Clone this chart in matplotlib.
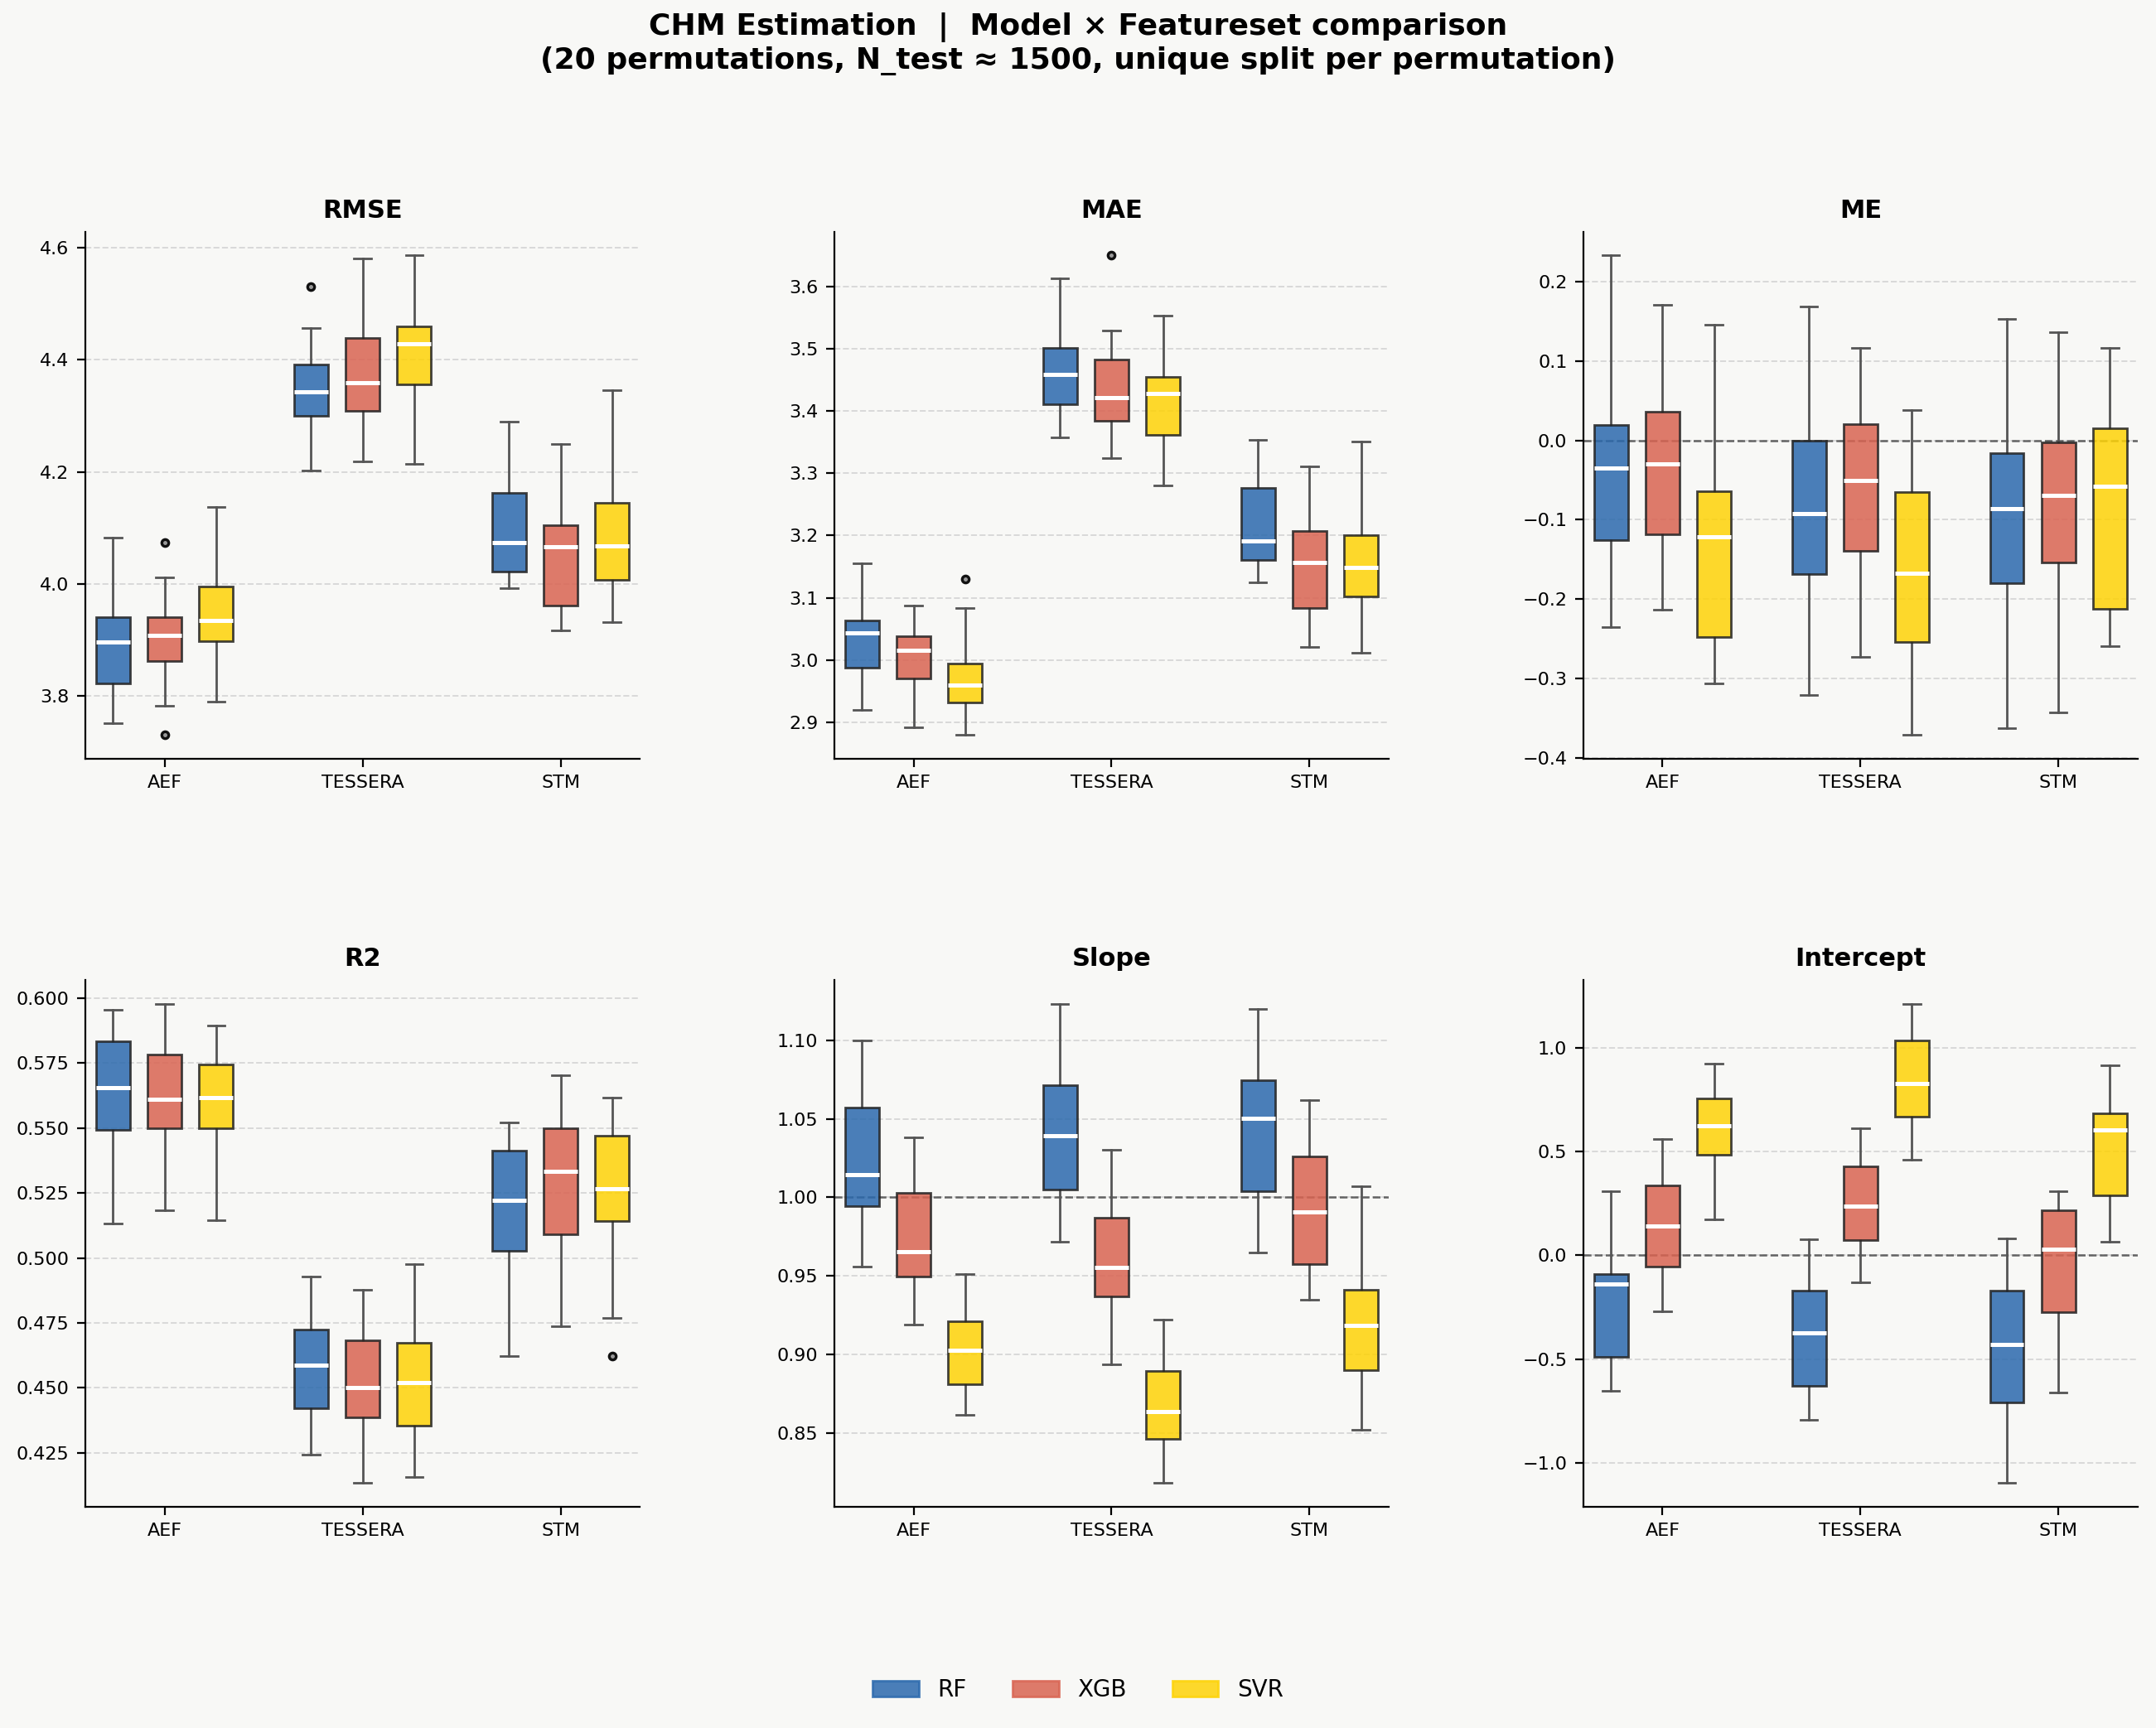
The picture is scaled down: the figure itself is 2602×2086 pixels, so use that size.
import matplotlib
matplotlib.use("Agg")
import matplotlib.pyplot as plt
from matplotlib.patches import Patch

# categories
featuresets = ["AEF", "TESSERA", "STM"]
models = ["RF", "XGB", "SVR"]
model_colors = ["#2b69ad", "#d96452", "#fed307"]

# box stats per featureset -> per model: [whislo, q1, median, q3, whishi]
rmse = [
    [[3.751, 3.823, 3.896, 3.941, 4.083], [3.783, 3.862, 3.908, 3.941, 4.012], [3.790, 3.897, 3.935, 3.995, 4.137]],
    [[4.202, 4.300, 4.342, 4.392, 4.456], [4.219, 4.309, 4.359, 4.439, 4.580], [4.214, 4.356, 4.429, 4.459, 4.586]],
    [[3.993, 4.022, 4.074, 4.163, 4.290], [3.917, 3.961, 4.066, 4.105, 4.250], [3.931, 4.007, 4.068, 4.144, 4.345]],
]
mae = [
    [[2.920, 2.988, 3.043, 3.064, 3.155], [2.891, 2.970, 3.015, 3.038, 3.088], [2.880, 2.931, 2.959, 2.994, 3.084]],
    [[3.358, 3.411, 3.459, 3.502, 3.613], [3.325, 3.384, 3.422, 3.483, 3.529], [3.281, 3.362, 3.428, 3.455, 3.554]],
    [[3.125, 3.160, 3.191, 3.277, 3.354], [3.021, 3.084, 3.156, 3.207, 3.311], [3.011, 3.102, 3.149, 3.201, 3.351]],
]
me = [
    [[-0.236, -0.126, -0.035, 0.019, 0.233], [-0.214, -0.119, -0.030, 0.036, 0.171], [-0.306, -0.248, -0.122, -0.064, 0.146]],
    [[-0.321, -0.169, -0.092, 0.000, 0.169], [-0.273, -0.139, -0.051, 0.020, 0.116], [-0.371, -0.254, -0.168, -0.065, 0.038]],
    [[-0.363, -0.180, -0.086, -0.016, 0.153], [-0.343, -0.154, -0.069, -0.003, 0.136], [-0.259, -0.212, -0.058, 0.015, 0.116]],
]
r2 = [
    [[0.5131, 0.5493, 0.5655, 0.5834, 0.5953], [0.5183, 0.5499, 0.5610, 0.5781, 0.5977], [0.5145, 0.5499, 0.5617, 0.5743, 0.5893]],
    [[0.4244, 0.4422, 0.4589, 0.4726, 0.4927], [0.4135, 0.4387, 0.4500, 0.4682, 0.4876], [0.4159, 0.4354, 0.4521, 0.4673, 0.4976]],
    [[0.4621, 0.5028, 0.5221, 0.5413, 0.5522], [0.4738, 0.5092, 0.5332, 0.5500, 0.5703], [0.4768, 0.5142, 0.5267, 0.5470, 0.5617]],
]
slope = [
    [[0.9558, 0.9944, 1.0146, 1.0572, 1.1000], [0.9193, 0.9495, 0.9654, 1.0030, 1.0383], [0.8614, 0.8813, 0.9027, 0.9211, 0.9513]],
    [[0.9720, 1.0052, 1.0393, 1.0715, 1.1232], [0.8936, 0.9370, 0.9553, 0.9871, 1.0304], [0.8183, 0.8462, 0.8639, 0.8896, 0.9221]],
    [[0.9647, 1.0037, 1.0501, 1.0745, 1.1197], [0.9347, 0.9574, 0.9906, 1.0262, 1.0617], [0.8523, 0.8903, 0.9186, 0.9412, 1.0073]],
]
intercept = [
    [[-0.653, -0.488, -0.137, -0.088, 0.307], [-0.269, -0.053, 0.141, 0.335, 0.562], [0.173, 0.484, 0.623, 0.754, 0.924]],
    [[-0.791, -0.629, -0.371, -0.168, 0.076], [-0.131, 0.072, 0.238, 0.427, 0.613], [0.459, 0.669, 0.827, 1.036, 1.211]],
    [[-1.095, -0.709, -0.429, -0.168, 0.080], [-0.661, -0.272, 0.031, 0.217, 0.307], [0.065, 0.288, 0.604, 0.682, 0.914]],
]

# outliers: (featureset index, model index) -> values
rmse_fliers = {(0, 1): [4.073, 3.731], (1, 0): [4.531]}
mae_fliers = {(0, 2): [3.130], (1, 1): [3.650]}
r2_fliers = {(2, 2): [0.4621]}

metrics = [
    ("RMSE", rmse, rmse_fliers, None),
    ("MAE", mae, mae_fliers, None),
    ("ME", me, {}, 0.0),
    ("R2", r2, r2_fliers, None),
    ("Slope", slope, {}, 1.0),
    ("Intercept", intercept, {}, 0.0),
]

bg = "#f8f8f6"
offset = 0.26
box_w = 0.17

fig, axes = plt.subplots(2, 3, figsize=(13.01, 10.43), dpi=200)
fig.patch.set_facecolor(bg)
fig.subplots_adjust(left=0.0396, right=0.9915, top=0.866, bottom=0.128,
                    wspace=0.351, hspace=0.42)

for ax, (name, data, fliers, ref) in zip(axes.flat, metrics):
    ax.set_facecolor(bg)
    for j, model in enumerate(models):
        stats = []
        pos = []
        for i in range(len(featuresets)):
            lo, q1, med, q3, hi = data[i][j]
            stats.append(dict(whislo=lo, q1=q1, med=med, q3=q3, whishi=hi,
                              fliers=fliers.get((i, j), [])))
            pos.append(i + (j - 1) * offset)
        bp = ax.bxp(stats, positions=pos, widths=box_w, patch_artist=True,
                    manage_ticks=False,
                    boxprops=dict(facecolor=model_colors[j], edgecolor="#222222",
                                  linewidth=1.0, alpha=0.85),
                    medianprops=dict(color="white", linewidth=1.8),
                    whiskerprops=dict(color="#555555", linewidth=1.0),
                    capprops=dict(color="#555555", linewidth=1.0),
                    flierprops=dict(marker="o", markersize=3, markerfacecolor="#999999",
                                    markeredgecolor="#111111", markeredgewidth=1.2))
        for box in bp["boxes"]:
            box.set_zorder(3)
        for med in bp["medians"]:
            med.set_zorder(4)
    if ref is not None:
        ax.axhline(ref, color="#555555", linestyle="--", linewidth=0.9, alpha=0.9, zorder=1)
    ax.set_xticks(range(len(featuresets)))
    ax.set_xticklabels(featuresets, fontsize=8)
    ax.tick_params(axis="y", labelsize=8)
    ax.set_xlim(-0.4, 2.4)
    ax.set_title(name, fontsize=11, fontweight="bold")
    ax.yaxis.grid(True, linestyle="--", color="#cccccc", alpha=0.7, linewidth=0.7)
    ax.set_axisbelow(True)
    ax.spines["top"].set_visible(False)
    ax.spines["right"].set_visible(False)

fig.suptitle("CHM Estimation  |  Model \u00d7 Featureset comparison\n"
             "(20 permutations, N_test \u2248 1500, unique split per permutation)",
             fontsize=13, fontweight="bold", y=0.993)

handles = [Patch(facecolor=c, edgecolor=c, alpha=0.85, label=m)
           for m, c in zip(models, model_colors)]
fig.legend(handles=handles, loc="center", bbox_to_anchor=(0.5, 0.022),
           ncol=3, frameon=False, fontsize=10)

fig.savefig("out.png", dpi=200, facecolor=bg)
